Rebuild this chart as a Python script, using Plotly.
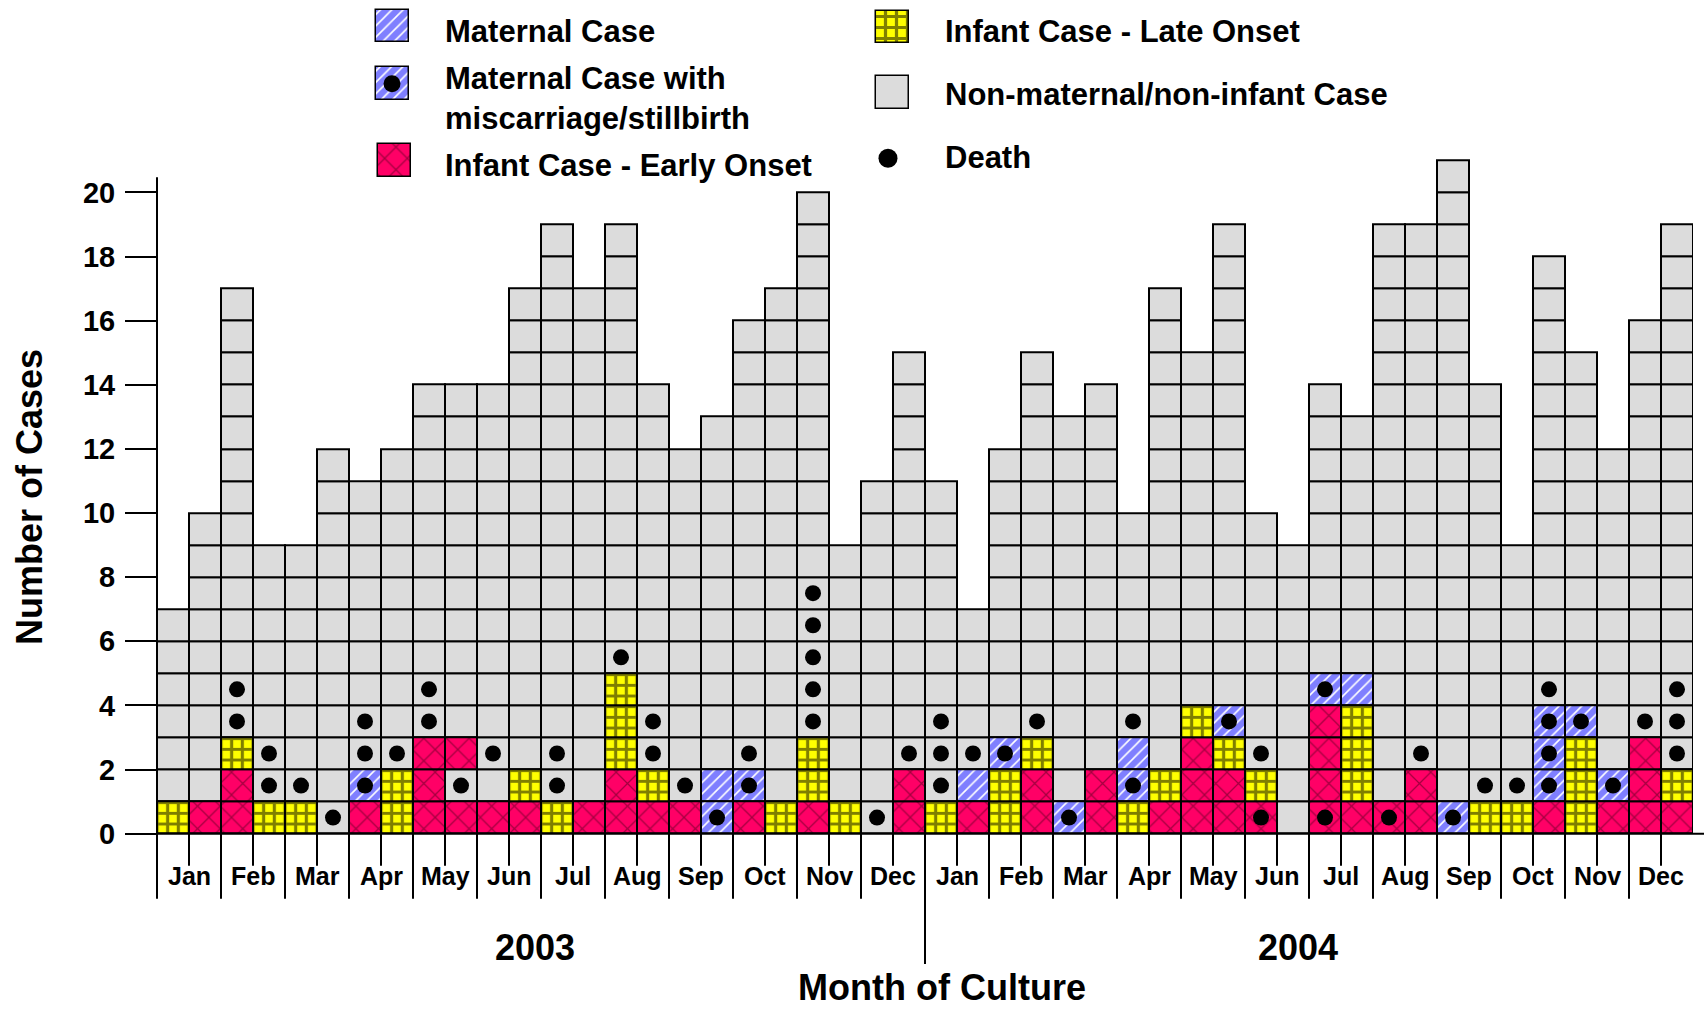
import plotly.graph_objects as go

# Layout is specified in reference-image pixels (1704 x 1010). The captured page is
# squeezed vertically by SY, so vertical positions are stretched by 1/SY when placed.
PAGE_W = 1704
SY = 1010 / 1028
W = PAGE_W
H = 1028

# ---------------- data ----------------
months = ["Jan", "Feb", "Mar", "Apr", "May", "Jun",
          "Jul", "Aug", "Sep", "Oct", "Nov", "Dec"]
years = ["2003", "2004"]

# total cases per half-month period (48 periods, Jan 2003 .. Dec 2004)
total_cases = [7, 10, 17, 9, 9, 12, 11, 12, 14, 14, 14, 17,
               19, 17, 19, 14, 12, 13, 16, 17, 20, 9, 11, 15,
               11, 7, 12, 15, 13, 14, 10, 17, 15, 19, 10, 9,
               14, 13, 19, 19, 21, 14, 9, 18, 15, 12, 16, 19]

# bottom-up case types of the lowest cells of each period; the rest are non-maternal
# M = maternal, S = maternal with miscarriage/stillbirth, E = infant early onset,
# L = infant late onset, N = non-maternal/non-infant
lower_cells = ["L", "E", "EEL", "L", "L", "", "ES", "LL", "EEE", "ENE", "E", "EL",
               "L", "E", "EELLL", "EL", "E", "SM", "ES", "L", "ELL", "L", "", "EE",
               "L", "EM", "LLS", "EEL", "S", "EE", "LSM", "EL", "EEEL", "EELS", "EL", "",
               "EEEES", "ELLLM", "E", "EE", "S", "L", "L", "ESSS", "LLLS", "ES", "EEE", "EL"]

# cell numbers (1 = bottom cell) carrying a death marker
death_cells = [[], [], [4, 5], [2, 3], [2], [1], [3, 4], [3], [4, 5], [2], [3], [],
               [2, 3], [], [6], [3, 4], [2], [], [3], [], [4, 5, 6, 7, 8], [], [1], [3],
               [2, 3, 4], [3], [], [4], [], [], [4], [], [], [], [1, 3], [],
               [1], [], [1], [3], [], [2], [2], [5], [], [], [4], [3, 4, 5]]

category_names = {
    "M": "Maternal Case",
    "S": "Maternal Case with<br>miscarriage/stillbirth",
    "E": "Infant Case - Early Onset",
    "L": "Infant Case - Late Onset",
    "N": "Non-maternal/non-infant Case",
}
death_label = "Death"
x_title = "Month of Culture"
y_title = "Number of Cases"

# ---------------- styles ----------------
FONT = "Liberation Sans, Arial, Helvetica, sans-serif"
styles = {
    "N": dict(color="#DCDCDC", pattern=dict(shape="")),
    "M": dict(color="white", pattern=dict(shape="/", fgcolor="#0000FF", bgcolor="white",
                                          size=8, solidity=0.8)),
    "S": dict(color="white", pattern=dict(shape="/", fgcolor="#0000FF", bgcolor="white",
                                          size=8, solidity=0.8)),
    "E": dict(color="#FF0066", pattern=dict(shape="x", fgcolor="#4a0018", bgcolor="#FF0066",
                                            size=16, solidity=0.15)),
    "L": dict(color="#FFFF00", pattern=dict(shape="+", fgcolor="#000000", bgcolor="#FFFF00",
                                            size=32 / 3, solidity=0.5)),
}


def px(x):
    """reference x pixel -> paper fraction"""
    return x / W


def py(y):
    """reference y pixel -> paper fraction"""
    return 1 - (y / SY) / H


# main plot geometry (reference px)
X_LEFT_BAR = 157      # left edge of first bar
CELL_X = 32
Y_ZERO = 832          # y = 0
CELL_Y = 32
# plot area: 16 px padding left of the first bar, bottom at y=0;
# height chosen so that pattern tiles line up with the cell borders
plot_h_page = 752
y_units = plot_h_page / (CELL_Y / SY)
plot_top_ref = (Y_ZERO / SY - plot_h_page) * SY

fig = go.Figure()

# ---------------- stacked unit cells ----------------
cells = {k: ([], []) for k in ["N", "M", "S", "E", "L"]}
s_dots_x, s_dots_y = [], []
for i, tot in enumerate(total_cases):
    low = lower_cells[i]
    for k in range(tot):
        code = low[k] if k < len(low) else "N"
        cells[code][0].append(i)
        cells[code][1].append(k)
        if code == "S":
            s_dots_x.append(i)
            s_dots_y.append(k + 0.5)

for code in ["N", "M", "S", "E", "L"]:
    xs, bases = cells[code]
    st = styles[code]
    fig.add_trace(go.Bar(
        x=xs, y=[1] * len(xs), base=bases, width=1,
        marker=dict(color=st["color"], pattern=st["pattern"],
                    line=dict(color="black", width=2)),
        name=category_names[code], showlegend=False, hoverinfo="skip",
    ))

d_x, d_y = [], []
for i, ds in enumerate(death_cells):
    for d in ds:
        d_x.append(i)
        d_y.append(d - 0.5)

fig.add_trace(go.Scatter(x=s_dots_x + d_x, y=s_dots_y + d_y, mode="markers",
                         marker=dict(color="#000000", size=16, opacity=1,
                                     line=dict(width=0, color="#000000")),
                         opacity=1, showlegend=False, hoverinfo="skip"))

# ---------------- custom legend (pixel axes, reference coordinates) ----------------
leg_swatches = [("M", 392, 10, 32), ("S", 392, 67, 33), ("E", 394, 144, 33),
                ("L", 892, 11, 32), ("N", 892, 76, 33)]
for code, cx, top, hgt in leg_swatches:
    st = styles[code]
    pat = dict(st["pattern"])
    if code == "L":
        pat["size"] = 11
    fig.add_trace(go.Bar(
        x=[cx], y=[hgt], base=[top], width=33, xaxis="x2", yaxis="y2",
        marker=dict(color=st["color"], pattern=pat, line=dict(color="black", width=1.5)),
        showlegend=False, hoverinfo="skip",
    ))
for lx, ly, ls in [(392, 83.5, 17), (888, 158, 19)]:
    fig.add_trace(go.Scatter(x=[lx], y=[ly], xaxis="x2", yaxis="y2", mode="markers",
                             marker=dict(color="#000000", size=ls, opacity=1,
                                         line=dict(width=0, color="#000000")),
                             opacity=1, showlegend=False, hoverinfo="skip"))

annotations = []
leg_texts = [("M", 443, 31), ("S", 443, 98), ("E", 443, 165),
             ("L", 943, 31), ("N", 943, 94)]
for code, x, y in leg_texts:
    annotations.append(dict(text="<b>" + category_names[code] + "</b>", x=px(x), y=py(y),
                            xref="paper", yref="paper", xanchor="left", yanchor="middle",
                            align="left", showarrow=False,
                            font=dict(family=FONT, size=31, color="black")))
annotations.append(dict(text="<b>" + death_label + "</b>", x=px(943), y=py(157.5),
                        xref="paper", yref="paper", xanchor="left", yanchor="middle",
                        showarrow=False, font=dict(family=FONT, size=31, color="black")))

# month labels
for yi in range(2):
    for mi, m in enumerate(months):
        xm = (yi * 12 + mi) * 2 + 0.5
        annotations.append(dict(text="<b>" + m + "</b>", x=xm, y=py(874), xref="x",
                                yref="paper", xanchor="center", yanchor="middle",
                                showarrow=False, font=dict(family=FONT, size=25, color="black")))
# years
for yx, yr in zip([11.3, 35.15], years):
    annotations.append(dict(text="<b>" + yr + "</b>", x=yx, y=py(946), xref="x", yref="paper",
                            xanchor="center", yanchor="middle", showarrow=False,
                            font=dict(family=FONT, size=36, color="black")))
annotations.append(dict(text="<b>" + x_title + "</b>", x=px(941.5), y=py(986), xref="paper",
                        yref="paper", xanchor="center", yanchor="middle", showarrow=False,
                        borderpad=0,
                        font=dict(family=FONT, size=36, color="black")))
annotations.append(dict(text="<b>" + y_title + "</b>", x=px(30), y=py(496), xref="paper",
                        yref="paper", xanchor="center", yanchor="middle", textangle=-90,
                        showarrow=False, font=dict(family=FONT, size=36, color="black")))

# ---------------- axis lines / separators ----------------
shapes = []
LW = 2
shapes.append(dict(type="line", xref="paper", yref="paper", x0=px(157), x1=px(157),
                   y0=py(177), y1=py(897), line=dict(color="black", width=LW)))
shapes.append(dict(type="line", xref="paper", yref="paper", x0=px(157), x1=1,
                   y0=py(832), y1=py(832), line=dict(color="black", width=LW)))
n_months = len(total_cases) // 2
for b in range(1, n_months):
    bottom = 962 if b == 12 else 897
    shapes.append(dict(type="line", xref="x", yref="paper", x0=2 * b - 0.5, x1=2 * b - 0.5,
                       y0=py(832), y1=py(bottom), line=dict(color="black", width=LW)))
for b in range(n_months):
    shapes.append(dict(type="line", xref="x", yref="paper", x0=2 * b + 0.5, x1=2 * b + 0.5,
                       y0=py(832), y1=py(864), line=dict(color="black", width=LW)))

fig.update_layout(
    width=W, height=H, autosize=False,
    margin=dict(l=0, r=0, t=0, b=0, pad=0),
    paper_bgcolor="white", plot_bgcolor="rgba(0,0,0,0)",
    barmode="overlay", bargap=0,
    showlegend=False,
    font=dict(family=FONT, color="black"),
    xaxis=dict(domain=[px(X_LEFT_BAR - 16), px(X_LEFT_BAR + 48 * CELL_X)],
               range=[-1, 47.5], visible=False, fixedrange=True),
    yaxis=dict(domain=[py(Y_ZERO), py(plot_top_ref)], range=[0, y_units],
               anchor="free", position=px(X_LEFT_BAR),
               showgrid=False, zeroline=False, showline=False,
               tickmode="array", tickvals=list(range(0, 21, 2)),
               ticks="outside", ticklen=32, tickwidth=2, tickcolor="black",
               ticklabelstandoff=4,
               tickfont=dict(family=FONT, size=29, color="black", weight="bold"),
               fixedrange=True),
    xaxis2=dict(domain=[0, 1], range=[0, W], visible=False, anchor="y2", fixedrange=True),
    yaxis2=dict(domain=[0, 1], range=[H * SY, 0], visible=False, anchor="x2",
                fixedrange=True),
    annotations=annotations,
    shapes=shapes,
)

fig.write_html("out.html", config={"displayModeBar": False},
               post_script="document.body.style.margin='0';document.body.style.overflow='hidden';")
